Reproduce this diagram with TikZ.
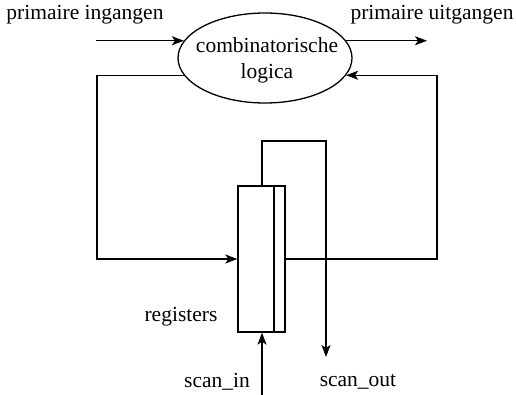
\documentclass[tikz,border=0pt]{standalone}
\usepackage{fontspec}
\setmainfont{Liberation Serif}
\usetikzlibrary{shapes.geometric, arrows.meta}
\tikzstyle{logicbox} = [ellipse, minimum width=174pt, minimum height=90pt, inner sep=0pt, draw=black, line width=1.3pt]
\tikzstyle{regbox} = [rectangle, minimum height=146pt, inner sep=0pt, draw=black, line width=1.3pt]
\tikzstyle{label} = [inner sep=0pt, anchor=center]
\tikzstyle{arrow} = [line width=1.3pt,-{Stealth[length=12pt,width=9pt,inset=3pt]}]

\begin{document}
\begin{tikzpicture}[x=1pt, y=-1pt, font=\fontsize{21.5}{26}\selectfont]
\useasboundingbox (0,0) rectangle (516,395);

% Nodes
\node (logic) at (265,58) [logicbox] {};
\node (logictext) at (267,60) [label, align=center] {combinatorische\\logica};
\node (regmain) at (256,259) [regbox, minimum width=36pt] {};
\node (regscan) at (279.5,259) [regbox, minimum width=11pt] {};

\node (inlabel) at (85,15) [label] {primaire ingangen};
\node (outlabel) at (432,15) [label] {primaire uitgangen};
\node (reglabel) at (181,317) [label] {registers};
\node (sinlabel) at (217,382) [label] {scan\_in};
\node (soutlabel) at (358,382) [label] {scan\_out};

\coordinate (inp) at (96,0);
\coordinate (outp) at (427,0);
\coordinate (fbl) at (97,0);
\coordinate (fbr) at (437,0);
\coordinate (scanin) at (262,395);
\coordinate (looptop) at (326,141);
\coordinate (scanout) at (326,357);

% Arrows
\draw [arrow] (inp |- logic.168) -- (logic.168);
\draw [arrow] (logic.12) -- (outp |- logic.12);

\draw [arrow] (logic.192) -| (fbl |- regmain.west) -- (regmain.west);
\draw [arrow] (regscan.east) -| (fbr |- logic.348) -- (logic.348);

\draw [arrow] (scanin) -- (scanin |- regmain.south);
\draw [arrow] (scanin |- regmain.north) |- (looptop) -- (scanout);

\end{tikzpicture}
\end{document}
